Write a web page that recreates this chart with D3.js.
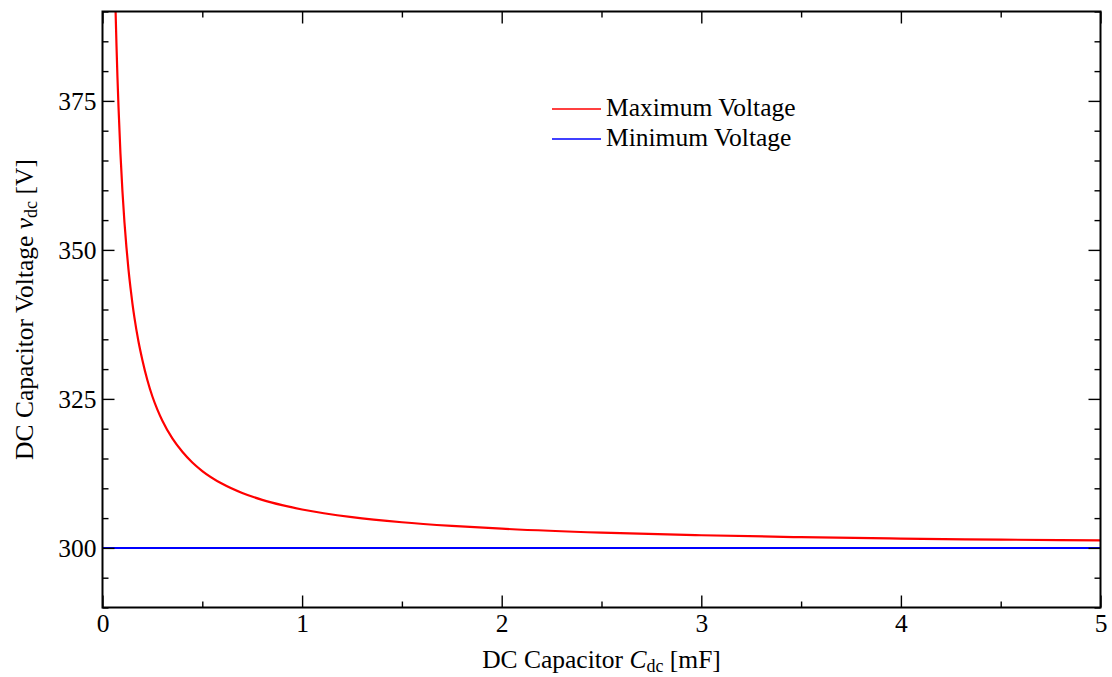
<!DOCTYPE html>
<html>
<head>
<meta charset="utf-8">
<script src="https://cdn.jsdelivr.net/npm/d3@7"></script>
<style>
  html, body { margin: 0; padding: 0; background: #fff; }
  svg { display: block; }
  svg text { font-family: "Liberation Serif", "Times New Roman", serif !important; fill: #000; }
</style>
</head>
<body>
<svg id="chart" width="1112" height="677"></svg>
<script>
// ---- data ----
const capacitance = [0.060, 0.065, 0.070, 0.075, 0.080, 0.090, 0.100, 0.110, 0.120, 0.130, 0.140, 0.150, 0.160, 0.180, 0.200, 0.225, 0.250, 0.275, 0.300, 0.350, 0.400, 0.450, 0.500, 0.600, 0.700, 0.800, 0.900, 1.000, 1.250, 1.500, 1.750, 2.000, 2.500, 3.000, 3.500, 4.000, 4.500, 5.000];
const maxVoltage  = [398.33, 390.77, 384.43, 378.93, 374.13, 366.11, 359.80, 354.64, 350.42, 346.77, 343.71, 341.00, 338.63, 334.67, 331.50, 328.13, 325.40, 323.20, 321.33, 318.37, 316.13, 314.33, 312.90, 310.75, 309.21, 308.06, 307.17, 306.45, 305.16, 304.30, 303.69, 303.22, 302.56, 302.12, 301.80, 301.56, 301.39, 301.25];
const minCapacitance = [0, 5];
const minVoltage  = [300, 300];
const seriesNames = ["Maximum Voltage", "Minimum Voltage"];
const seriesColors = ["#ff0000", "#0000ff"];
const xMajorTicks = [0, 1, 2, 3, 4, 5];
const yMajorTicks = [300, 325, 350, 375];

(function () {
// ---- layout ----
const svg = d3.select("#chart");
const pL = 102.5, pR = 1100.5, pT = 11.5, pB = 607.5;
const FS = 25.5, SUB = 18;

const x = d3.scaleLinear().domain([0, 5]).range([pL, pR]);
const y = d3.scaleLinear().domain([290, 390]).range([pB, pT]);

svg.append("defs").append("clipPath").attr("id", "clip")
  .append("rect").attr("x", pL).attr("y", pT)
  .attr("width", pR - pL).attr("height", pB - pT);

// ---- data lines ----
const line = d3.line().x(d => x(d[0])).y(d => y(d[1])).curve(d3.curveMonotoneX);
const g = svg.append("g").attr("clip-path", "url(#clip)");

g.append("path")
  .datum(minCapacitance.map((c, i) => [c, minVoltage[i]]))
  .attr("d", line).attr("fill", "none")
  .attr("stroke", seriesColors[1]).attr("stroke-width", 2);

g.append("path")
  .datum(capacitance.map((c, i) => [c, maxVoltage[i]]))
  .attr("d", line).attr("fill", "none")
  .attr("stroke", seriesColors[0]).attr("stroke-width", 2.2);

// ---- axes with inward ticks on all four sides ----
const xMinor = d3.range(0.5, 5, 1);
const yMinor = d3.range(290, 391, 5).filter(v => !yMajorTicks.includes(v));
const major = 12, minor = 6;

function styleAxis(sel) {
  sel.attr("font-family", null).attr("font-size", null);
  sel.select(".domain").remove();
  sel.selectAll(".tick line").attr("stroke", "#000").attr("stroke-width", 1.4);
  sel.selectAll(".tick text").attr("font-size", FS);
}

// bottom
svg.append("g").attr("transform", `translate(0,${pB})`)
  .call(d3.axisBottom(x).tickValues(xMajorTicks).tickSize(-major).tickPadding(6).tickFormat(d3.format("d")))
  .call(styleAxis);
svg.append("g").attr("transform", `translate(0,${pB})`)
  .call(d3.axisBottom(x).tickValues(xMinor).tickSize(-minor).tickFormat(""))
  .call(styleAxis);
// top
svg.append("g").attr("transform", `translate(0,${pT})`)
  .call(d3.axisTop(x).tickValues(xMajorTicks).tickSize(-major).tickFormat(""))
  .call(styleAxis);
svg.append("g").attr("transform", `translate(0,${pT})`)
  .call(d3.axisTop(x).tickValues(xMinor).tickSize(-minor).tickFormat(""))
  .call(styleAxis);
// left
svg.append("g").attr("transform", `translate(${pL},0)`)
  .call(d3.axisLeft(y).tickValues(yMajorTicks).tickSize(-major).tickPadding(6).tickFormat(d3.format("d")))
  .call(styleAxis);
svg.append("g").attr("transform", `translate(${pL},0)`)
  .call(d3.axisLeft(y).tickValues(yMinor).tickSize(-minor).tickFormat(""))
  .call(styleAxis);
// right
svg.append("g").attr("transform", `translate(${pR},0)`)
  .call(d3.axisRight(y).tickValues(yMajorTicks).tickSize(-major).tickFormat(""))
  .call(styleAxis);
svg.append("g").attr("transform", `translate(${pR},0)`)
  .call(d3.axisRight(y).tickValues(yMinor).tickSize(-minor).tickFormat(""))
  .call(styleAxis);

// frame
svg.append("rect").attr("x", pL).attr("y", pT)
  .attr("width", pR - pL).attr("height", pB - pT)
  .attr("fill", "none").attr("stroke", "#000").attr("stroke-width", 2);

// ---- axis titles ----
const xt = svg.append("text").attr("x", (pL + pR) / 2).attr("y", 668)
  .attr("text-anchor", "middle").attr("font-size", FS);
xt.append("tspan").text("DC Capacitor ");
xt.append("tspan").attr("font-style", "italic").text("C");
xt.append("tspan").attr("font-size", SUB).attr("dy", 4).text("dc");
xt.append("tspan").attr("dy", -4).text(" [mF]");

const yt = svg.append("text")
  .attr("transform", `translate(33,${(pT + pB) / 2}) rotate(-90)`)
  .attr("text-anchor", "middle").attr("font-size", FS);
yt.append("tspan").text("DC Capacitor Voltage ");
yt.append("tspan").attr("font-style", "italic").text("v");
yt.append("tspan").attr("font-size", SUB).attr("dy", 4).text("dc");
yt.append("tspan").attr("dy", -4).text(" [V]");

// ---- legend ----
const legend = svg.append("g");
seriesNames.forEach((name, i) => {
  const ly = 109 + i * 30;
  legend.append("line").attr("x1", 552).attr("x2", 601)
    .attr("y1", ly).attr("y2", ly)
    .attr("stroke", seriesColors[i]).attr("stroke-width", 1.5);
  legend.append("text").attr("x", 606).attr("y", ly + 7)
    .attr("font-size", FS).text(name);
});
})();
</script>
</body>
</html>
